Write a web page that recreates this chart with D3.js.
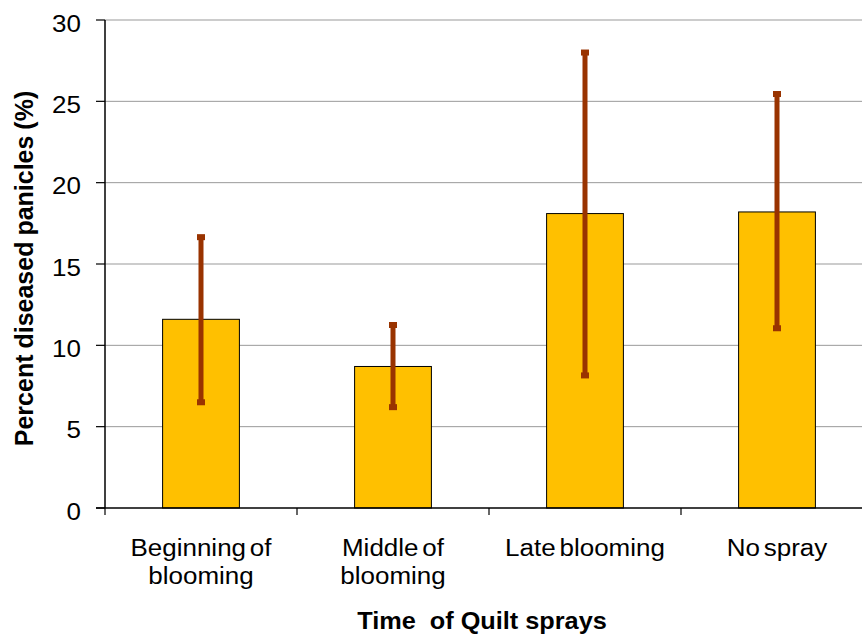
<!DOCTYPE html>
<html><head><meta charset="utf-8">
<script src="https://cdn.jsdelivr.net/npm/d3@7"></script>
<style>body{margin:0;background:#fff}svg{display:block}text{font-family:"Liberation Sans",Arial,sans-serif}</style>
</head><body><svg id="c" width="862" height="634"></svg>
<script>
const categories = [["Beginning of","blooming"],["Middle of","blooming"],["Late blooming"],["No spray"]];
const values = [11.6, 8.7, 18.1, 18.2];
const errLow = [6.5, 6.2, 8.15, 11.05];
const errHigh = [16.65, 11.25, 28.0, 25.45];
const yTicks = [0,5,10,15,20,25,30];

(function(){
const svg = d3.select("#c");
const pL = 105, pT = 20, pB = 508, bandW = 192, SX = 1.13;
const keys = categories.map((d,i)=>i);
const x = d3.scaleBand().domain(keys).range([pL, pL + bandW*4]).paddingInner(0.6).paddingOuter(0.3);
const y = d3.scaleLinear().domain([0,30]).range([pB, pT]);

svg.append("g").selectAll("line").data(yTicks.filter(d=>d>0)).join("line")
  .attr("x1", pL).attr("x2", 862).attr("y1", d=>y(d)).attr("y2", d=>y(d))
  .attr("stroke", "#999").attr("stroke-width", 1);

svg.append("g").selectAll("rect").data(values).join("rect")
  .attr("x", (d,i)=>x(i)).attr("width", x.bandwidth())
  .attr("y", d=>y(d)).attr("height", d=>pB - y(d))
  .attr("fill", "#FFC000").attr("stroke", "#000").attr("stroke-width", 1);

const eg = svg.append("g");
values.forEach((v,i)=>{
  const cx = x(i) + x.bandwidth()/2;
  eg.append("line").attr("x1", cx).attr("x2", cx).attr("y1", y(errLow[i])).attr("y2", y(errHigh[i]))
    .attr("stroke", "#993300").attr("stroke-width", 5);
  [errLow[i], errHigh[i]].forEach(e=>{
    eg.append("rect").attr("x", cx-4).attr("y", y(e)-3).attr("width", 8).attr("height", 6).attr("fill", "#993300");
  });
});

const ya = svg.append("g");
ya.append("line").attr("x1", pL).attr("x2", pL).attr("y1", pT).attr("y2", pB).attr("stroke", "#000").attr("stroke-width", 1.5);
ya.selectAll(".t").data(yTicks).join("line").attr("x1", pL-9).attr("x2", pL).attr("y1", d=>y(d)).attr("y2", d=>y(d)).attr("stroke", "#000").attr("stroke-width", 1.2);
ya.selectAll("text").data(yTicks).join("text")
  .attr("transform", d=>`translate(81,${y(d)+11.5}) scale(${SX},1)`).attr("text-anchor", "end")
  .attr("font-size", 23).attr("fill", "#000").text(d=>d);

const xa = svg.append("g");
xa.append("line").attr("x1", pL-9).attr("x2", 862).attr("y1", pB).attr("y2", pB).attr("stroke", "#000").attr("stroke-width", 1.5);
xa.selectAll(".t").data(keys).join("line").attr("x1", d=>pL + d*bandW).attr("x2", d=>pL + d*bandW)
  .attr("y1", pB).attr("y2", pB+7).attr("stroke", "#000").attr("stroke-width", 1.2);
categories.forEach((lines,i)=>{
  const cx = x(i) + x.bandwidth()/2;
  lines.forEach((l,j)=>xa.append("text").attr("text-anchor","middle").attr("font-size", 23).attr("fill","#000")
    .attr("word-spacing", -3)
    .attr("transform", `translate(${cx},${556 + j*28}) scale(${SX},1)`).text(l));
});

svg.append("text").attr("transform","translate(482,629) scale(1.1,1)").attr("text-anchor","middle").attr("font-size", 23).attr("font-weight","bold").style("white-space","pre").text("Time  of Quilt sprays");
svg.append("text").attr("transform","translate(33,268.5) rotate(-90)").attr("text-anchor","middle").attr("font-size", 25).attr("font-weight","bold").attr("word-spacing", -1).text("Percent diseased panicles (%)");
})();
</script></body></html>
